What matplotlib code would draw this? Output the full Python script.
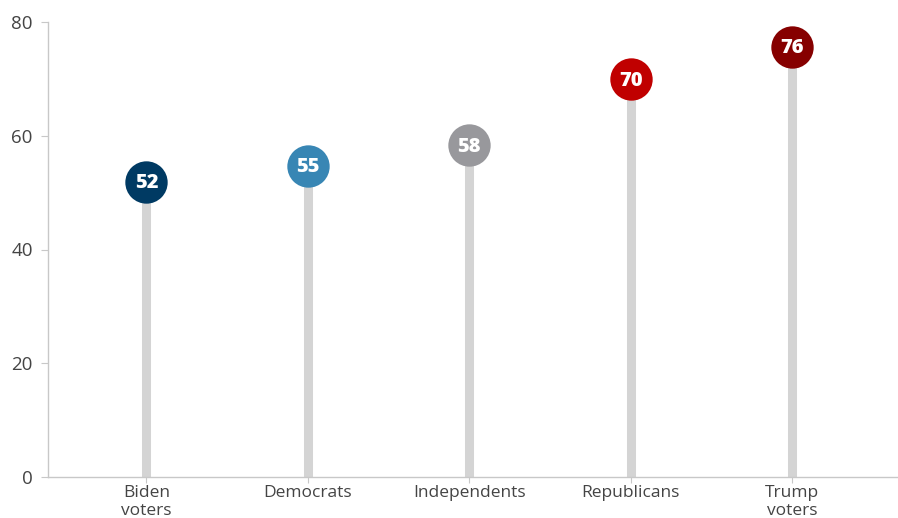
import matplotlib.pyplot as plt

groups = ['Biden\nvoters', 'Democrats', 'Independents', 'Republicans', 'Trump\nvoters']
values = [51.9, 54.7, 58.3, 69.9, 75.6]
labels = ['52', '55', '58', '70', '76']
colors = ['#003a63', '#3886b4', '#98989c', '#c00000', '#860000']

plt.rcParams['font.family'] = ['Open Sans', 'DejaVu Sans']

fig = plt.figure(figsize=(8.98, 5.18), dpi=100)
ax = fig.add_axes([48/898, 41/518, 849/898, 455/518])

x = list(range(len(groups)))
# stems
for i in x:
    ax.plot([i, i], [0, values[i]], color='#d4d4d4', linewidth=6.5, solid_capstyle='butt', zorder=1)
# heads
for i in x:
    ax.plot(i, values[i], 'o', markersize=30.5, color=colors[i], markeredgewidth=0, zorder=2)
    ax.text(i, values[i] - 0.2, labels[i], ha='center', va='center', color='white',
            fontsize=14.5, fontweight='heavy', zorder=3)

ax.set_xlim(-0.61, 4.65)
ax.set_ylim(0, 80)
ax.set_yticks([0, 20, 40, 60, 80])
ax.set_xticks(x)
ax.set_xticklabels(groups, linespacing=1.1)

for s in ['top', 'right']:
    ax.spines[s].set_visible(False)
for s in ['left', 'bottom']:
    ax.spines[s].set_color('#c8c8c8')
    ax.spines[s].set_linewidth(1)
ax.tick_params(axis='y', length=5, color='#c8c8c8', labelsize=13.5, labelcolor='#444444', pad=6)
ax.tick_params(axis='x', length=4, color='#c8c8c8', labelsize=12.5, labelcolor='#444444', pad=2)

plt.savefig('out.png', dpi=100)
